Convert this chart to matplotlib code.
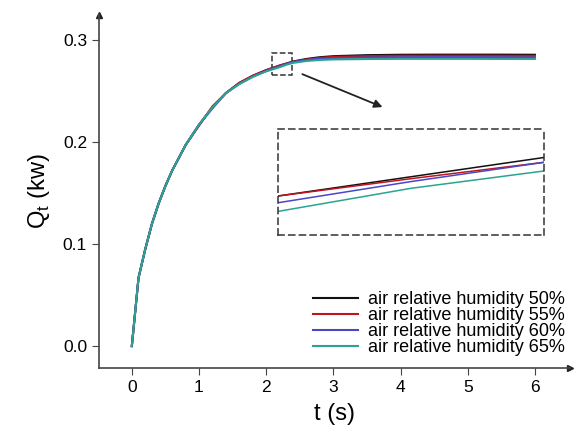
import matplotlib
matplotlib.use('Agg')
import matplotlib.pyplot as plt
from matplotlib.patches import Rectangle

plt.rcParams['font.family'] = ['Liberation Sans', 'DejaVu Sans']

# time points (s)
t = [0, 0.1, 0.2, 0.3, 0.4, 0.5, 0.6, 0.8, 1.0, 1.2, 1.4, 1.6, 1.8, 2.0,
     2.2, 2.3, 2.4, 2.6, 2.8, 3.0, 3.5, 4.0, 4.5, 5.0, 5.5, 6.0]

# heat flow Q_t (kw) for each humidity
q50 = [0, 0.067, 0.095, 0.120, 0.140, 0.157, 0.172, 0.197, 0.217, 0.234, 0.248, 0.258, 0.265, 0.2705,
       0.2750, 0.2770, 0.2790, 0.2815, 0.2832, 0.2842, 0.2852, 0.2856, 0.2857, 0.2857, 0.2857, 0.2856]
q55 = [0, 0.067, 0.095, 0.120, 0.140, 0.157, 0.172, 0.197, 0.216, 0.235, 0.248, 0.258, 0.265, 0.2705,
       0.2750, 0.2768, 0.2785, 0.2810, 0.2825, 0.2835, 0.2843, 0.2846, 0.2847, 0.2847, 0.2846, 0.2845]
q60 = [0, 0.067, 0.095, 0.120, 0.140, 0.157, 0.172, 0.197, 0.217, 0.233, 0.248, 0.257, 0.264, 0.2698,
       0.2743, 0.2765, 0.2785, 0.2805, 0.2817, 0.2823, 0.2829, 0.2831, 0.2832, 0.2832, 0.2831, 0.2830]
q65 = [0, 0.067, 0.095, 0.120, 0.140, 0.157, 0.172, 0.197, 0.217, 0.234, 0.248, 0.257, 0.264, 0.2693,
       0.2734, 0.2758, 0.2776, 0.2795, 0.2805, 0.2810, 0.2814, 0.2816, 0.2816, 0.2816, 0.2815, 0.2815]

series = [q50, q55, q60, q65]
labels = ['air relative humidity 50%', 'air relative humidity 55%',
          'air relative humidity 60%', 'air relative humidity 65%']
colors = ['#111111', '#c0141e', '#4a46c8', '#2aa391']

fig = plt.figure(figsize=(5.75, 4.43), dpi=100)
ax = fig.add_axes([0.172, 0.169, 0.819, 0.797])

for q, lab, c in zip(series, labels, colors):
    ax.plot(t, q, color=c, lw=1.5, label=lab)

ax.set_xlim(-0.49, 6.52)
ax.set_ylim(-0.0216, 0.3245)
ax.set_xticks(range(7))
ax.set_yticks([0.0, 0.1, 0.2, 0.3])
ax.set_yticklabels(['0.0', '0.1', '0.2', '0.3'])
ax.tick_params(labelsize=12.5, direction='out', length=5, color='#444444')
ax.spines['top'].set_visible(False)
ax.spines['right'].set_visible(False)
for s in ['left', 'bottom']:
    ax.spines[s].set_color('#444444')
    ax.spines[s].set_linewidth(1.2)

# arrow heads at axis ends
ax.plot(0, 1, '^', color='#222222', ms=4, transform=ax.transAxes, clip_on=False)
ax.plot(1, 0, '>', color='#222222', ms=4, transform=ax.transAxes, clip_on=False)

ax.set_xlabel('t (s)', fontsize=17, labelpad=6)
ax.set_ylabel('Q$_\\mathregular{t}$ (kw)', fontsize=17, labelpad=8)

# small zoom box and arrow
ax.add_patch(Rectangle((2.08, 0.2655), 0.3, 0.022, fill=False, ls='--', lw=1.1, ec='#333333'))
ax.annotate('', xy=(3.77, 0.2333), xytext=(2.5, 0.2676),
            arrowprops=dict(arrowstyle='-|>', color='#222222', lw=1.3, mutation_scale=12))

# inset
ins = ax.inset_axes([0.380, 0.377, 0.565, 0.300])
for q, c in zip(series, colors):
    ins.plot(t, q, color=c, lw=1.1)
ins.set_xlim(2.2, 2.4)
ins.set_ylim(0.27095, 0.28195)
ins.set_xticks([])
ins.set_yticks([])
for s in ins.spines.values():
    s.set_linestyle((0, (4, 3)))
    s.set_color('#333333')
    s.set_linewidth(1.1)

ax.legend(loc='lower right', bbox_to_anchor=(0.99, 0.034), frameon=False, fontsize=13,
          handlelength=2.5, labelspacing=-0.05, handletextpad=0.55,
          borderpad=0, borderaxespad=0)

fig.savefig('out.png', dpi=100)
